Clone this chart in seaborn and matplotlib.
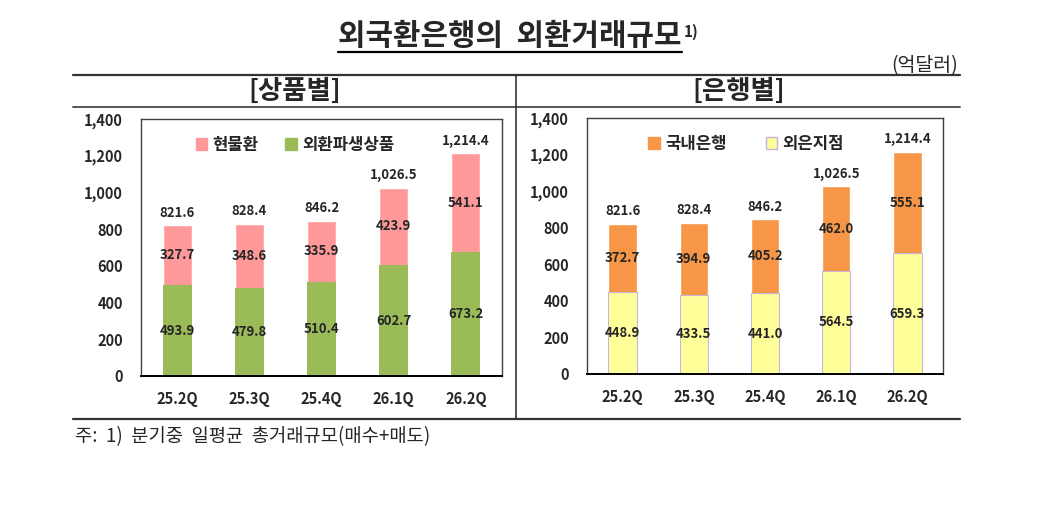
import matplotlib
matplotlib.use('Agg')
import matplotlib.pyplot as plt
from matplotlib.lines import Line2D
from matplotlib.patches import Patch
import seaborn as sns
import pandas as pd

quarters = ['25.2Q', '25.3Q', '25.4Q', '26.1Q', '26.2Q']
totals = [821.6, 828.4, 846.2, 1026.5, 1214.4]
# 상품별
spot = [327.7, 348.6, 335.9, 423.9, 541.1]
deriv = [493.9, 479.8, 510.4, 602.7, 673.2]
# 은행별
domestic = [372.7, 394.9, 405.2, 462.0, 555.1]
foreign = [448.9, 433.5, 441.0, 564.5, 659.3]

yticks = [0, 200, 400, 600, 800, 1000, 1200, 1400]

sns.set_theme(style='white')
plt.rcParams['font.family'] = ['Noto Sans CJK KR', 'DejaVu Sans']
plt.rcParams['axes.unicode_minus'] = False

W, H = 1039, 508
fig = plt.figure(figsize=(W / 100, H / 100), dpi=100)


def px(x0, y0, x1, y1):
    # pixel box -> figure fraction rect
    return [x0 / W, 1 - y1 / H, (x1 - x0) / W, (y1 - y0) / H]


def stacked(ax, bottom, top, c_bottom, c_top, names, edge_bottom=None, colsp=2.6, leg_x=0.13):
    df = pd.DataFrame({'q': quarters, 'total': totals, 'bottom': bottom, 'top': top})
    sns.barplot(data=df, x='q', y='total', color=c_top, saturation=1, width=0.4, ax=ax)
    sns.barplot(data=df, x='q', y='bottom', color=c_bottom, saturation=1, width=0.4, ax=ax,
                edgecolor=edge_bottom if edge_bottom else c_bottom, linewidth=0.8 if edge_bottom else 0)
    ax.set_ylim(0, 1400)
    ax.set_xlim(-0.5, 4.5)
    ax.set_yticks(yticks)
    ax.set_yticklabels([f'{v:,}' for v in yticks], fontsize=10.5, fontweight='bold')
    ax.set_xticks(range(len(quarters)))
    ax.set_xticklabels(quarters, fontsize=10.5, fontweight='bold')
    ax.tick_params(axis='y', length=0, pad=13)
    ax.tick_params(axis='x', length=0, pad=11)
    ax.set_xlabel('')
    ax.set_ylabel('')
    for s in ax.spines.values():
        s.set_color('#404040')
        s.set_linewidth(1.0)
    ax.spines['bottom'].set_color('black')
    ax.spines['bottom'].set_linewidth(1.4)
    for i in range(len(quarters)):
        ax.annotate(f'{totals[i]:,.1f}', (i, totals[i]), xytext=(0, 4), textcoords='offset points',
                    ha='center', va='bottom', fontsize=9.5, fontweight='bold')
        ax.text(i, bottom[i] + top[i] / 2, f'{top[i]:.1f}', ha='center', va='center',
                fontsize=9.5, fontweight='bold')
        ax.text(i, bottom[i] / 2, f'{bottom[i]:.1f}', ha='center', va='center',
                fontsize=9.5, fontweight='bold')
    handles = [Patch(facecolor=c_top, edgecolor=c_top),
               Patch(facecolor=c_bottom, edgecolor=edge_bottom if edge_bottom else c_bottom)]
    ax.legend(handles, names, ncol=2, loc='center left', bbox_to_anchor=(leg_x, 0.9),
              frameon=False, handlelength=0.7, handleheight=0.7, handletextpad=0.3,
              columnspacing=colsp, prop={'size': 12, 'weight': 'bold'})


ax1 = fig.add_axes(px(141, 119, 502, 376))
stacked(ax1, deriv, spot, '#9BBB59', '#FF9999', ['현물환', '외환파생상품'], colsp=1.6, leg_x=0.11)

ax2 = fig.add_axes(px(587, 118, 943, 374))
stacked(ax2, foreign, domestic, '#FFFF99', '#F79646', ['국내은행', '외은지점'],
        edge_bottom='#C8B4D8', colsp=2.35, leg_x=0.13)

# frame lines
def hline(y, x0=73, x1=960, lw=1.6, c='#333333'):
    fig.add_artist(Line2D([x0 / W, x1 / W], [1 - y / H, 1 - y / H], color=c, lw=lw))

hline(75)
hline(107, lw=1.4, c='#555555')
hline(419)
fig.add_artist(Line2D([516 / W, 516 / W], [1 - 75 / H, 1 - 419 / H], color='#333333', lw=1.2))

# texts
title = fig.text(510 / W, 1 - 36 / H, '외국환은행의  외환거래규모', ha='center', va='center',
                 fontsize=21.5, fontweight='bold')
fig.text(958 / W, 1 - 66 / H, '(억달러)', ha='right', va='center', fontsize=14)
fig.text(295 / W, 1 - 91 / H, '[상품별]', ha='center', va='center', fontsize=19, fontweight='bold')
fig.text(739 / W, 1 - 91 / H, '[은행별]', ha='center', va='center', fontsize=19, fontweight='bold')
fig.text(75 / W, 1 - 437 / H, '주:  1)  분기중  일평균  총거래규모(매수+매도)', ha='left', va='center',
         fontsize=13.5)

fig.canvas.draw()
bb = title.get_window_extent().transformed(fig.transFigure.inverted())
fig.add_artist(Line2D([bb.x0, bb.x1], [1 - 52 / H, 1 - 52 / H], color='black', lw=1.6))
fig.text(bb.x1 + 2 / W, 1 - 24 / H, '1)', ha='left', va='top', fontsize=11, fontweight='bold')

fig.savefig('out.png', dpi=100, facecolor='white')
